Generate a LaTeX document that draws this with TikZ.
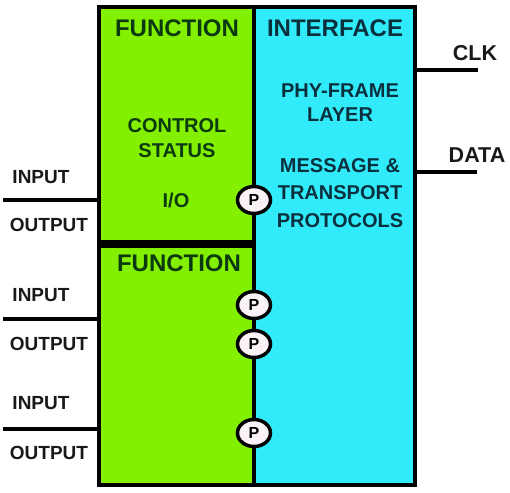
\documentclass[tikz,border=0pt]{standalone}
\usepackage{fontspec}
\setmainfont{Liberation Sans}
\usepackage{tikz}
\usetikzlibrary{shapes.geometric}
\definecolor{fngreen}{RGB}{130,240,0}
\definecolor{ifcyan}{RGB}{50,235,250}
\definecolor{fntext}{RGB}{12,58,16}
\definecolor{iftext}{RGB}{10,48,62}
\definecolor{portfill}{RGB}{250,242,246}

\begin{document}
\begin{tikzpicture}[x=1pt, y=-1pt,
    block/.style={draw=black, line width=4pt, inner sep=0pt},
    wire/.style={draw=black, line width=3.5pt},
    title/.style={font=\fontsize{24}{28}\selectfont\bfseries},
    body/.style={font=\fontsize{20}{25}\selectfont\bfseries, align=center, inner sep=0pt},
    pin/.style={font=\fontsize{19}{22}\selectfont\bfseries, text=black!90, inner sep=0pt},
    port/.style={ellipse, draw=black, line width=3.5pt, fill=portfill, minimum width=33pt,
      minimum height=27pt, inner sep=0pt, font=\fontsize{16}{16}\selectfont\bfseries}]
        \useasboundingbox (0,0) rectangle (510,492);
        % blocks
        \node[block, fill=ifcyan, minimum width=161pt, minimum height=478pt] (iface) at (334,246) {};
        \node[block, fill=fngreen, minimum width=154.5pt, minimum height=235pt] (fnA) at (176.25,124.5) {};
        \node[block, fill=fngreen, minimum width=154.5pt, minimum height=239pt] (fnB) at (176.25,365.5) {};
        % texts in the blocks
        \node[title, text=fntext] (fnAtitle) at (177,28) {FUNCTION};
        \node[body, text=fntext] (ctrl) at (177,138) {CONTROL\\STATUS};
        \node[body, text=fntext] (io) at (176,200) {I/O};
        \node[title, text=fntext] (fnBtitle) at (179,263) {FUNCTION};
        \node[title, text=iftext] (iftitle) at (335,28) {INTERFACE};
        \node[body, text=iftext, font=\fontsize{20}{24}\selectfont\bfseries] (phy) at (340,103) {PHY-FRAME\\LAYER};
        \node[body, text=iftext, font=\fontsize{20}{27.5}\selectfont\bfseries] (msg) at (340,193) {MESSAGE \&\\TRANSPORT\\PROTOCOLS};
        % right side
        \coordinate (clkend) at (478,70);
        \coordinate (dataend) at (477,172);
        \draw[wire] (iface.east |- clkend) -- (clkend);
        \draw[wire] (iface.east |- dataend) -- (dataend);
        \node[pin, font=\fontsize{21.5}{24}\selectfont\bfseries] (clk) at (475,53) {CLK};
        \node[pin, font=\fontsize{21.5}{24}\selectfont\bfseries] (data) at (477,155) {DATA};
        % left side
        \coordinate (ioA) at (3,200);
        \coordinate (ioB) at (3,319);
        \coordinate (ioC) at (3,429);
        \draw[wire] (ioA) -- (fnA.west |- ioA);
        \draw[wire] (ioB) -- (fnB.west |- ioB);
        \draw[wire] (ioC) -- (fnB.west |- ioC);
        \node[pin] (inA) at (41,177) {INPUT};
        \node[pin] (outA) at (49,225) {OUTPUT};
        \node[pin] (inB) at (41,295) {INPUT};
        \node[pin] (outB) at (49,344) {OUTPUT};
        \node[pin] (inC) at (41,403) {INPUT};
        \node[pin] (outC) at (49,453) {OUTPUT};
        % ports
        \node[port] (pA) at (254,200) {P};
        \node[port] (pB) at (254,305) {P};
        \node[port] (pC) at (254,344) {P};
        \node[port] (pD) at (254,433) {P};
      \end{tikzpicture}
\end{document}
